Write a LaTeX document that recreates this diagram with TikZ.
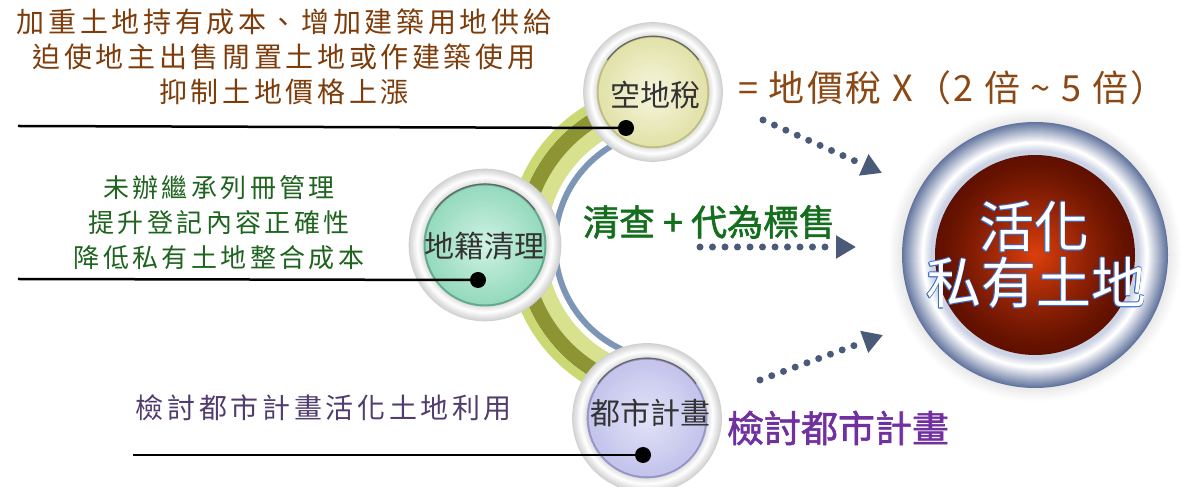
\documentclass[tikz,border=0pt]{standalone}
\usepackage{fontspec}
\setmainfont{Noto Sans CJK TC}
\newfontfamily\cjksp{Noto Sans CJK TC}[LetterSpace=13]
\newfontfamily\cjkt{Noto Sans CJK TC}[LetterSpace=7]
\newfontfamily\cjkmed{Noto Sans CJK TC}[FakeBold=1.6]
\usetikzlibrary{arrows.meta}
\definecolor{tbrown}{RGB}{125,60,10}
\definecolor{rbrown}{RGB}{139,72,20}
\definecolor{tgreen}{RGB}{30,100,30}
\definecolor{rgreen}{RGB}{20,110,30}
\definecolor{tpurple}{RGB}{80,60,110}
\definecolor{rpurple}{RGB}{112,48,160}
\definecolor{arrowc}{RGB}{74,91,122}
\definecolor{bandlight}{RGB}{203,216,115}
\definecolor{banddark}{RGB}{140,148,51}
\definecolor{bandinner}{RGB}{216,226,142}
\definecolor{blring}{RGB}{126,150,182}
\definecolor{ringdark}{RGB}{98,116,158}
\definecolor{ringedge}{RGB}{190,200,222}
\definecolor{reddark}{RGB}{96,16,0}
\definecolor{redlight}{RGB}{222,64,12}
\definecolor{oblue}{RGB}{58,110,200}
\definecolor{ylbase}{RGB}{226,226,170}
\definecolor{yllight}{RGB}{246,246,222}
\definecolor{yldark}{RGB}{190,190,130}
\definecolor{gnbase}{RGB}{150,218,190}
\definecolor{gnlight}{RGB}{206,242,228}
\definecolor{gndark}{RGB}{100,170,140}
\definecolor{pubase}{RGB}{196,196,236}
\definecolor{pulight}{RGB}{226,226,248}
\definecolor{pudark}{RGB}{150,150,200}
\newcommand\myolr[3]{\rlap{\hspace*{#1}\raisebox{#2}{\textcolor{oblue}{#3}}}}
\newcommand\myoutl[1]{\myolr{.8pt}{0pt}{#1}\myolr{-.8pt}{0pt}{#1}\myolr{0pt}{.8pt}{#1}\myolr{0pt}{-.8pt}{#1}\myolr{.6pt}{.6pt}{#1}\myolr{-.6pt}{.6pt}{#1}\myolr{.6pt}{-.6pt}{#1}\myolr{-.6pt}{-.6pt}{#1}\textcolor{white}{#1}}
\newcommand\mybubble[3]{%
  \foreach \k in {0,...,14}{%
    \pgfmathsetmacro\vv{abs(\k-8)*4.5}%
    \pgfmathsetmacro\rr{72-\k}%
    \fill[gray!\vv!white] (0,0) circle[radius=\rr pt];
  }%
  \fill[#3] (0,0) circle[radius=58pt];
  \foreach \k in {0,...,27}{%
    \pgfmathsetmacro\rr{56-\k*2}%
    \pgfmathsetmacro\pp{\k*100/27}%
    \fill[#2!\pp!#1] (0,0) circle[radius=\rr pt];
  }%
  \draw[black!60, line width=1.2pt] (35:57.5pt) arc[start angle=35,end angle=145,radius=57.5pt];
}
\begin{document}
\begin{tikzpicture}[x=1pt,y=1pt,
  every node/.style={inner sep=0pt,outer sep=0pt},
  blackline/.style={draw=black,line width=2.5pt},
  blackdot/.style={circle,fill=black,minimum size=16pt},
  dotarrow/.style={draw=arrowc,line width=7pt,line cap=round,dash pattern=on 0pt off 12.5pt,-{Triangle[length=20pt,width=22pt]}},
  bubtext/.style={font=\fontsize{30}{34}\selectfont,text=black!80}]
\useasboundingbox (0,0) rectangle (1181,487);
\fill[white] (0,0) rectangle (1181,487);
% arc band
\coordinate (C) at (670,242);
\draw[line width=15pt,bandinner] ([shift={(95:131.5pt)}]C) arc[start angle=95,end angle=265,radius=131.5pt];
\draw[line width=15pt,banddark] ([shift={(95:146.5pt)}]C) arc[start angle=95,end angle=265,radius=146.5pt];
\draw[line width=9pt,bandlight] ([shift={(95:158.5pt)}]C) arc[start angle=95,end angle=265,radius=158.5pt];
\draw[line width=6pt,blring] ([shift={(100:115pt)}]C) arc[start angle=100,end angle=260,radius=115pt];
% small circles
\begin{scope}[shift={(653,395)},scale=0.97]\mybubble{ylbase}{yllight}{yldark}\end{scope}
\begin{scope}[shift={(485,242)},scale=1.06]\mybubble{gnbase}{gnlight}{gndark}\end{scope}
\begin{scope}[shift={(647,69)},scale=1.04]\mybubble{pubase}{pulight}{pudark}\end{scope}
\node[circle,minimum size=140pt] (kd) at (653,395) {};
\node[circle,minimum size=152pt] (dj) at (485,242) {};
\node[circle,minimum size=150pt] (ds) at (647,69) {};
% big circle
\coordinate (BC) at (1035,232);
\foreach \k in {0,...,14}{%
  \pgfmathsetmacro\rr{147-\k}\pgfmathsetmacro\pp{\k*1.3}%
  \fill[gray!\pp!white] (BC) circle[radius=\rr pt];}
\foreach \k in {0,...,20}{%
  \pgfmathsetmacro\rr{133-\k}\pgfmathsetmacro\pp{\k*5}%
  \fill[white!\pp!ringdark] (BC) circle[radius=\rr pt];}
\foreach \k in {0,...,8}{%
  \pgfmathsetmacro\rr{112-\k}\pgfmathsetmacro\pp{100-\k*10}%
  \fill[white!\pp!ringedge] (BC) circle[radius=\rr pt];}
\foreach \k in {0,...,33}{%
  \pgfmathsetmacro\rr{100-\k*3}\pgfmathsetmacro\pp{100*(\k/33)^1.25}%
  \fill[redlight!\pp!reddark] (BC) circle[radius=\rr pt];}
\node[circle,minimum size=264pt] (hl) at (BC) {};
\node[font=\fontsize{55}{60}\selectfont] (hl1) at (1034,260) {\myoutl{活化}};
\node[font=\fontsize{55}{60}\selectfont] (hl2) at (1036,204) {\myoutl{私有土地}};
% circle labels
\node[bubtext] (kdt) at (655,392) {空地稅};
\node[bubtext] (djt) at (484,241) {地籍清理};
\node[bubtext] (dst) at (650,74) {都市計畫};
% connector lines and dots
\node[blackdot] (d1) at (626,359) {};
\node[blackdot] (d2) at (478,207) {};
\node[blackdot] (d3) at (643,32) {};
\coordinate (e1) at (18,361);
\coordinate (e2) at (18,208);
\coordinate (e3) at (133,32);
\draw[blackline] (e1) -- (d1.center);
\draw[blackline] (e2) -- (d2.center);
\draw[blackline] (e3) -- (d3.center);
% left texts
\node[font=\cjksp\fontsize{28}{35}\selectfont,text=tbrown,align=center] (bn) at (284,430) {加重土地持有成本、增加建築用地供給\\迫使地主出售閒置土地或作建築使用\\抑制土地價格上漲};
\node[font=\cjksp\fontsize{26}{35}\selectfont,text=tgreen,align=center] (gn) at (219,264) {未辦繼承列冊管理\\提升登記內容正確性\\降低私有土地整合成本};
\node[font=\cjksp\fontsize{28}{34}\selectfont,text=tpurple] (pn) at (324,79) {檢討都市計畫活化土地利用};
% right labels
\node[font=\cjkt\fontsize{36}{40}\selectfont,text=rbrown,anchor=west] (tax) at (738,399) {= 地價稅 X（2 倍 \textasciitilde\ 5 倍）};
\node[font=\cjkmed\fontsize{36}{40}\selectfont,text=rgreen,anchor=west] (qc) at (583,265) {清查 + 代為標售};
\node[font=\cjkmed\fontsize{37}{40}\selectfont,text=rpurple,anchor=west] (jt) at (727,59) {檢討都市計畫};
% dotted arrows
\coordinate (a1s) at (763,367); \coordinate (a1e) at (882,314);
\coordinate (a2s) at (700,240); \coordinate (a2e) at (856,240);
\coordinate (a3s) at (760,107); \coordinate (a3e) at (883,152);
\draw[dotarrow] (a1s) -- (a1e);
\draw[dotarrow] (a2s) -- (a2e);
\draw[dotarrow] (a3s) -- (a3e);
\end{tikzpicture}
\end{document}
